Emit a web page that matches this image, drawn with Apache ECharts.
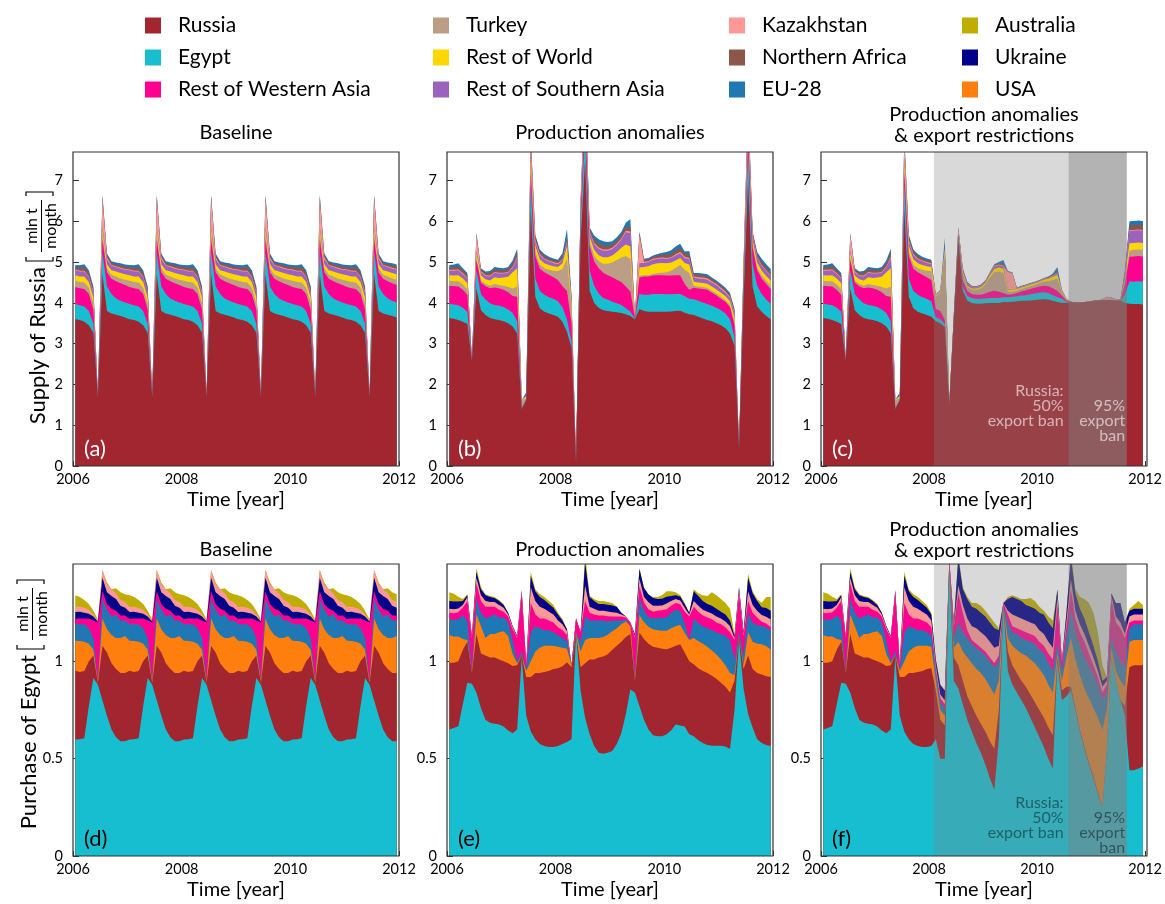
<!DOCTYPE html>
<html>
<head>
<meta charset="utf-8">
<script src="https://cdn.jsdelivr.net/npm/echarts@6/dist/echarts.min.js"></script>
<style>
  html, body { margin: 0; padding: 0; background: #fff; }
  #chart { width: 1165px; height: 904px; }
</style>
</head>
<body>
<div id="chart"></div>
<script>
// ---------------------------------------------------------------------------
// Monthly wheat flows, Jan 2006 .. Dec 2011 (one value per month, mln t/month)
// ---------------------------------------------------------------------------
const xTickYears = [2006, 2008, 2010, 2012];
const banSpans = [[2008.09, 2010.58], [2010.58, 2011.66]];   // Russian export bans
const banNotes = ['Russia:\n50%\nexport ban', '95%\nexport\nban'];

// ---- Supply of Russia: baseline (a)
const aRus = [3.60,3.58,3.54,3.45,3.27,1.70,4.70,3.80,3.74,3.71,3.68,3.64,
              3.60,3.58,3.54,3.45,3.27,1.70,4.70,3.80,3.74,3.71,3.68,3.64,
              3.60,3.58,3.54,3.45,3.27,1.70,4.70,3.80,3.74,3.71,3.68,3.64,
              3.60,3.58,3.54,3.45,3.27,1.70,4.70,3.80,3.74,3.71,3.68,3.64,
              3.60,3.58,3.54,3.45,3.27,1.70,4.70,3.80,3.74,3.71,3.68,3.64,
              3.60,3.58,3.54,3.45,3.27,1.70,4.70,3.80,3.74,3.71,3.68,3.64];
const aEgy = [0.37,0.36,0.37,0.35,0.22,0.01,0.55,0.60,0.48,0.40,0.37,0.37,
              0.37,0.36,0.37,0.35,0.22,0.01,0.55,0.60,0.48,0.40,0.37,0.37,
              0.37,0.36,0.37,0.35,0.22,0.01,0.55,0.60,0.48,0.40,0.37,0.37,
              0.37,0.36,0.37,0.35,0.22,0.01,0.55,0.60,0.48,0.40,0.37,0.37,
              0.37,0.36,0.37,0.35,0.22,0.01,0.55,0.60,0.48,0.40,0.37,0.37,
              0.37,0.36,0.37,0.35,0.22,0.01,0.55,0.60,0.48,0.40,0.37,0.37];
const aRwa = [0.42,0.42,0.43,0.42,0.35,0.01,0.30,0.35,0.37,0.42,0.43,0.43,
              0.42,0.42,0.43,0.42,0.35,0.01,0.30,0.35,0.37,0.42,0.43,0.43,
              0.42,0.42,0.43,0.42,0.35,0.01,0.30,0.35,0.37,0.42,0.43,0.43,
              0.42,0.42,0.43,0.42,0.35,0.01,0.30,0.35,0.37,0.42,0.43,0.43,
              0.42,0.42,0.43,0.42,0.35,0.01,0.30,0.35,0.37,0.42,0.43,0.43,
              0.42,0.42,0.43,0.42,0.35,0.01,0.30,0.35,0.37,0.42,0.43,0.43];
const aTur = [0.15,0.15,0.16,0.15,0.15,0.00,0.15,0.10,0.10,0.12,0.12,0.13,
              0.15,0.15,0.16,0.15,0.15,0.00,0.15,0.10,0.10,0.12,0.12,0.13,
              0.15,0.15,0.16,0.15,0.15,0.00,0.15,0.10,0.10,0.12,0.12,0.13,
              0.15,0.15,0.16,0.15,0.15,0.00,0.15,0.10,0.10,0.12,0.12,0.13,
              0.15,0.15,0.16,0.15,0.15,0.00,0.15,0.10,0.10,0.12,0.12,0.13,
              0.15,0.15,0.16,0.15,0.15,0.00,0.15,0.10,0.10,0.12,0.12,0.13];
const aRow = [0.14,0.14,0.15,0.14,0.14,0.00,0.12,0.10,0.11,0.12,0.13,0.13,
              0.14,0.14,0.15,0.14,0.14,0.00,0.12,0.10,0.11,0.12,0.13,0.13,
              0.14,0.14,0.15,0.14,0.14,0.00,0.12,0.10,0.11,0.12,0.13,0.13,
              0.14,0.14,0.15,0.14,0.14,0.00,0.12,0.10,0.11,0.12,0.13,0.13,
              0.14,0.14,0.15,0.14,0.14,0.00,0.12,0.10,0.11,0.12,0.13,0.13,
              0.14,0.14,0.15,0.14,0.14,0.00,0.12,0.10,0.11,0.12,0.13,0.13];
const aRsa = [0.12,0.12,0.12,0.12,0.12,0.00,0.05,0.12,0.11,0.11,0.11,0.11,
              0.12,0.12,0.12,0.12,0.12,0.00,0.05,0.12,0.11,0.11,0.11,0.11,
              0.12,0.12,0.12,0.12,0.12,0.00,0.05,0.12,0.11,0.11,0.11,0.11,
              0.12,0.12,0.12,0.12,0.12,0.00,0.05,0.12,0.11,0.11,0.11,0.11,
              0.12,0.12,0.12,0.12,0.12,0.00,0.05,0.12,0.11,0.11,0.11,0.11,
              0.12,0.12,0.12,0.12,0.12,0.00,0.05,0.12,0.11,0.11,0.11,0.11];
const aKaz = [0.02,0.02,0.02,0.02,0.02,0.00,0.70,0.05,0.02,0.02,0.02,0.02,
              0.02,0.02,0.02,0.02,0.02,0.00,0.70,0.05,0.02,0.02,0.02,0.02,
              0.02,0.02,0.02,0.02,0.02,0.00,0.70,0.05,0.02,0.02,0.02,0.02,
              0.02,0.02,0.02,0.02,0.02,0.00,0.70,0.05,0.02,0.02,0.02,0.02,
              0.02,0.02,0.02,0.02,0.02,0.00,0.70,0.05,0.02,0.02,0.02,0.02,
              0.02,0.02,0.02,0.02,0.02,0.00,0.70,0.05,0.02,0.02,0.02,0.02];
const aNaf = [0.06,0.07,0.09,0.09,0.08,0.00,0.04,0.05,0.05,0.05,0.06,0.06,
              0.06,0.07,0.09,0.09,0.08,0.00,0.04,0.05,0.05,0.05,0.06,0.06,
              0.06,0.07,0.09,0.09,0.08,0.00,0.04,0.05,0.05,0.05,0.06,0.06,
              0.06,0.07,0.09,0.09,0.08,0.00,0.04,0.05,0.05,0.05,0.06,0.06,
              0.06,0.07,0.09,0.09,0.08,0.00,0.04,0.05,0.05,0.05,0.06,0.06,
              0.06,0.07,0.09,0.09,0.08,0.00,0.04,0.05,0.05,0.05,0.06,0.06];
const aEu  = [0.05,0.06,0.07,0.06,0.05,0.00,0.04,0.04,0.04,0.04,0.05,0.05,
              0.05,0.06,0.07,0.06,0.05,0.00,0.04,0.04,0.04,0.04,0.05,0.05,
              0.05,0.06,0.07,0.06,0.05,0.00,0.04,0.04,0.04,0.04,0.05,0.05,
              0.05,0.06,0.07,0.06,0.05,0.00,0.04,0.04,0.04,0.04,0.05,0.05,
              0.05,0.06,0.07,0.06,0.05,0.00,0.04,0.04,0.04,0.04,0.05,0.05,
              0.05,0.06,0.07,0.06,0.05,0.00,0.04,0.04,0.04,0.04,0.05,0.05];

// ---- Supply of Russia: production anomalies (b)
const bRus = [3.63,3.61,3.58,3.54,3.48,2.58,4.35,3.82,3.70,3.63,3.60,3.58,
              3.55,3.50,3.42,3.25,1.40,1.62,6.30,4.15,3.87,3.78,3.74,3.70,
              3.66,3.54,3.29,2.90,0.08,5.50,7.50,4.30,4.00,3.88,3.82,3.80,
              3.78,3.77,3.75,3.72,3.68,3.60,3.85,3.80,3.78,3.78,3.78,3.78,
              3.78,3.79,3.80,3.81,3.76,3.72,3.70,3.66,3.62,3.58,3.55,3.50,
              3.45,3.38,3.25,2.95,0.43,4.10,7.00,4.40,3.92,3.78,3.68,3.60];
const bEgy = [0.35,0.35,0.36,0.34,0.30,0.01,0.45,0.40,0.38,0.36,0.35,0.35,
              0.35,0.34,0.33,0.30,0.01,0.02,0.60,0.45,0.42,0.42,0.40,0.40,
              0.38,0.35,0.30,0.15,0.01,0.45,0.70,0.50,0.42,0.35,0.30,0.28,
              0.25,0.22,0.20,0.15,0.10,0.02,0.37,0.40,0.42,0.44,0.44,0.44,
              0.43,0.42,0.42,0.41,0.40,0.38,0.39,0.39,0.39,0.39,0.38,0.38,
              0.37,0.36,0.35,0.20,0.01,0.30,0.70,0.55,0.50,0.44,0.40,0.37];
const bRwa = [0.44,0.45,0.46,0.44,0.42,0.01,0.25,0.28,0.33,0.37,0.43,0.43,
              0.42,0.42,0.42,0.60,0.01,0.00,0.30,0.55,0.55,0.55,0.55,0.53,
              0.52,0.52,0.70,0.45,0.01,0.25,0.50,0.58,0.60,0.62,0.62,0.60,
              0.60,0.58,0.56,0.53,0.50,0.02,0.40,0.45,0.45,0.45,0.46,0.46,
              0.46,0.46,0.46,0.46,0.30,0.22,0.28,0.30,0.33,0.35,0.32,0.30,
              0.28,0.28,0.30,0.30,0.01,0.20,0.40,0.40,0.38,0.38,0.38,0.37];
const bTur = [0.12,0.12,0.13,0.13,0.13,0.00,0.08,0.05,0.05,0.06,0.08,0.08,
              0.10,0.13,0.18,0.25,0.20,0.02,0.10,0.10,0.10,0.10,0.12,0.16,
              0.22,0.42,0.80,0.40,0.00,0.05,0.10,0.12,0.14,0.17,0.22,0.28,
              0.36,0.48,0.60,0.75,0.80,0.01,0.05,0.03,0.03,0.04,0.05,0.06,
              0.08,0.12,0.18,0.25,0.35,0.42,0.05,0.05,0.05,0.05,0.05,0.05,
              0.05,0.05,0.05,0.10,0.00,0.05,0.10,0.08,0.07,0.07,0.08,0.08];
const bRow = [0.14,0.14,0.15,0.15,0.15,0.00,0.10,0.12,0.12,0.13,0.17,0.17,
              0.20,0.25,0.40,0.45,0.00,0.05,0.20,0.15,0.13,0.12,0.12,0.11,
              0.10,0.14,0.30,0.10,0.00,0.08,0.20,0.12,0.14,0.15,0.16,0.16,
              0.17,0.20,0.24,0.28,0.30,0.00,0.20,0.20,0.22,0.24,0.24,0.24,
              0.22,0.20,0.18,0.17,0.17,0.20,0.10,0.10,0.10,0.10,0.10,0.10,
              0.10,0.09,0.09,0.10,0.00,0.10,0.20,0.12,0.12,0.12,0.12,0.12];
const bRsa = [0.11,0.12,0.12,0.11,0.11,0.00,0.05,0.08,0.08,0.10,0.11,0.11,
              0.10,0.10,0.12,0.25,0.00,0.00,0.10,0.10,0.10,0.10,0.09,0.08,
              0.07,0.08,0.10,0.05,0.00,0.05,0.10,0.10,0.14,0.16,0.16,0.16,
              0.16,0.17,0.20,0.30,0.33,0.00,0.10,0.10,0.10,0.11,0.11,0.11,
              0.11,0.11,0.12,0.12,0.12,0.13,0.10,0.10,0.10,0.10,0.10,0.10,
              0.09,0.09,0.08,0.08,0.00,0.05,0.10,0.10,0.12,0.12,0.12,0.12];
const bKaz = [0.02,0.02,0.02,0.02,0.02,0.00,0.40,0.03,0.02,0.02,0.02,0.02,
              0.02,0.02,0.02,0.03,0.00,0.00,0.40,0.04,0.03,0.02,0.02,0.02,
              0.02,0.02,0.02,0.01,0.00,0.08,0.30,0.03,0.03,0.03,0.03,0.03,
              0.03,0.03,0.03,0.04,0.04,0.00,0.70,0.03,0.02,0.02,0.02,0.02,
              0.02,0.02,0.03,0.03,0.03,0.03,0.03,0.03,0.03,0.03,0.03,0.03,
              0.03,0.03,0.03,0.03,0.00,0.15,0.40,0.03,0.02,0.02,0.02,0.02];
const bNaf = [0.07,0.07,0.08,0.07,0.07,0.00,0.02,0.04,0.05,0.06,0.07,0.07,
              0.06,0.07,0.08,0.12,0.00,0.00,0.05,0.07,0.06,0.06,0.05,0.05,
              0.05,0.07,0.10,0.05,0.00,0.02,0.05,0.05,0.09,0.10,0.10,0.09,
              0.08,0.08,0.08,0.10,0.12,0.00,0.05,0.04,0.05,0.05,0.06,0.07,
              0.08,0.09,0.10,0.10,0.08,0.10,0.05,0.06,0.06,0.06,0.05,0.05,
              0.05,0.05,0.05,0.05,0.00,0.03,0.05,0.04,0.07,0.07,0.07,0.07];
const bEu  = [0.05,0.06,0.07,0.05,0.05,0.00,0.01,0.03,0.04,0.05,0.05,0.05,
              0.05,0.05,0.07,0.08,0.00,0.10,0.05,0.06,0.05,0.05,0.04,0.04,
              0.04,0.08,0.20,0.09,0.00,0.02,0.05,0.05,0.09,0.10,0.10,0.09,
              0.08,0.08,0.08,0.10,0.18,0.00,0.03,0.03,0.03,0.03,0.04,0.05,
              0.07,0.08,0.09,0.10,0.05,0.07,0.03,0.04,0.04,0.04,0.04,0.04,
              0.04,0.04,0.04,0.04,0.00,0.02,0.05,0.03,0.05,0.08,0.08,0.08];

// ---- Supply of Russia: production anomalies & export restrictions (c)
const cRus = [3.63,3.61,3.58,3.54,3.48,2.58,4.35,3.82,3.70,3.63,3.60,3.58,
              3.55,3.50,3.42,3.25,1.40,1.62,6.30,4.15,3.87,3.78,3.74,3.70,
              3.66,3.55,3.50,3.40,1.50,3.60,5.55,4.30,4.05,4.00,3.98,3.98,
              3.99,4.00,4.00,4.00,4.02,4.02,4.03,4.04,4.05,4.05,4.06,4.07,
              4.08,4.09,4.08,4.05,4.02,4.00,4.00,4.02,4.01,4.01,4.02,4.03,
              4.05,4.06,4.07,4.07,4.07,4.06,4.06,4.00,3.98,3.97,3.97,3.96];
const cEgy = [0.35,0.35,0.36,0.34,0.30,0.01,0.45,0.40,0.38,0.36,0.35,0.35,
              0.35,0.34,0.33,0.30,0.01,0.02,0.60,0.45,0.42,0.42,0.40,0.40,
              0.38,0.10,0.10,0.08,0.00,0.02,0.10,0.10,0.12,0.12,0.12,0.12,
              0.12,0.12,0.12,0.12,0.12,0.12,0.12,0.12,0.13,0.14,0.15,0.16,
              0.17,0.17,0.16,0.14,0.12,0.10,0.03,0.01,0.00,0.00,0.00,0.00,
              0.00,0.00,0.00,0.00,0.00,0.00,0.00,0.20,0.55,0.55,0.56,0.56];
const cRwa = [0.44,0.45,0.46,0.44,0.42,0.01,0.25,0.28,0.33,0.37,0.43,0.43,
              0.42,0.42,0.42,0.60,0.01,0.00,0.30,0.55,0.55,0.55,0.55,0.53,
              0.52,0.20,0.20,0.10,0.00,0.02,0.06,0.15,0.12,0.10,0.10,0.10,
              0.12,0.15,0.18,0.15,0.10,0.06,0.06,0.08,0.10,0.12,0.13,0.14,
              0.15,0.16,0.17,0.17,0.15,0.08,0.03,0.00,0.00,0.00,0.00,0.00,
              0.00,0.00,0.00,0.00,0.00,0.00,0.00,0.25,0.60,0.62,0.62,0.62];
const cTur = [0.12,0.12,0.13,0.13,0.13,0.00,0.08,0.05,0.05,0.06,0.08,0.08,
              0.10,0.13,0.18,0.25,0.20,0.02,0.10,0.10,0.10,0.10,0.12,0.16,
              0.22,0.30,0.45,1.60,0.03,0.05,0.05,0.15,0.10,0.10,0.12,0.15,
              0.22,0.35,0.45,0.50,0.50,0.08,0.06,0.06,0.06,0.06,0.07,0.07,
              0.08,0.10,0.12,0.20,0.30,0.06,0.03,0.00,0.00,0.00,0.00,0.00,
              0.00,0.00,0.00,0.00,0.00,0.00,0.00,0.08,0.15,0.16,0.16,0.16];
const cRow = [0.14,0.14,0.15,0.15,0.15,0.00,0.10,0.12,0.12,0.13,0.17,0.17,
              0.20,0.25,0.40,0.45,0.00,0.05,0.20,0.15,0.13,0.12,0.12,0.11,
              0.10,0.03,0.03,0.12,0.01,0.01,0.02,0.05,0.03,0.03,0.03,0.04,
              0.04,0.06,0.08,0.10,0.10,0.05,0.05,0.04,0.04,0.04,0.04,0.04,
              0.04,0.05,0.06,0.08,0.10,0.04,0.01,0.00,0.00,0.00,0.00,0.00,
              0.00,0.00,0.00,0.00,0.00,0.00,0.00,0.08,0.18,0.17,0.17,0.17];
const cRsa = [0.11,0.12,0.12,0.11,0.11,0.00,0.05,0.08,0.08,0.10,0.11,0.11,
              0.10,0.10,0.12,0.25,0.00,0.00,0.10,0.10,0.10,0.10,0.09,0.08,
              0.07,0.01,0.01,0.02,0.00,0.00,0.02,0.03,0.04,0.04,0.03,0.03,
              0.03,0.04,0.06,0.05,0.05,0.01,0.01,0.01,0.01,0.01,0.01,0.01,
              0.01,0.01,0.01,0.02,0.03,0.01,0.00,0.00,0.00,0.00,0.00,0.00,
              0.00,0.00,0.00,0.00,0.00,0.00,0.00,0.10,0.30,0.30,0.30,0.30];
const cKaz = [0.02,0.02,0.02,0.02,0.02,0.00,0.40,0.03,0.02,0.02,0.02,0.02,
              0.02,0.02,0.02,0.03,0.00,0.00,0.40,0.04,0.03,0.02,0.02,0.02,
              0.02,0.01,0.01,0.02,0.00,0.00,0.03,0.02,0.01,0.01,0.01,0.01,
              0.01,0.01,0.02,0.02,0.02,0.42,0.40,0.01,0.01,0.01,0.01,0.01,
              0.01,0.01,0.01,0.01,0.01,0.01,0.00,0.00,0.00,0.00,0.00,0.00,
              0.00,0.00,0.02,0.08,0.06,0.03,0.02,0.01,0.02,0.02,0.02,0.02];
const cNaf = [0.07,0.07,0.08,0.07,0.07,0.00,0.02,0.04,0.05,0.06,0.07,0.07,
              0.06,0.07,0.08,0.12,0.00,0.00,0.05,0.07,0.06,0.06,0.05,0.05,
              0.05,0.00,0.00,0.01,0.00,0.00,0.01,0.02,0.02,0.01,0.01,0.01,
              0.01,0.01,0.02,0.03,0.04,0.01,0.01,0.01,0.01,0.01,0.01,0.01,
              0.01,0.01,0.02,0.02,0.02,0.01,0.00,0.00,0.00,0.00,0.00,0.00,
              0.00,0.00,0.00,0.00,0.00,0.00,0.00,0.05,0.12,0.12,0.12,0.12];
const cEu  = [0.05,0.06,0.07,0.05,0.05,0.00,0.01,0.03,0.04,0.05,0.05,0.05,
              0.05,0.05,0.07,0.08,0.00,0.10,0.05,0.06,0.05,0.05,0.04,0.04,
              0.04,0.01,0.02,0.25,0.00,0.00,0.01,0.03,0.02,0.01,0.01,0.01,
              0.01,0.01,0.02,0.03,0.10,0.01,0.01,0.01,0.01,0.01,0.01,0.01,
              0.01,0.01,0.02,0.03,0.13,0.01,0.00,0.00,0.00,0.00,0.00,0.00,
              0.00,0.00,0.00,0.00,0.00,0.00,0.00,0.03,0.10,0.10,0.10,0.10];

// ---- Purchase of Egypt: baseline (d)
const dEgy = [0.598,0.600,0.605,0.770,0.915,0.880,0.800,0.720,0.650,0.610,0.590,0.590,
              0.598,0.600,0.605,0.770,0.915,0.880,0.800,0.720,0.650,0.610,0.590,0.590,
              0.598,0.600,0.605,0.770,0.915,0.880,0.800,0.720,0.650,0.610,0.590,0.590,
              0.598,0.600,0.605,0.770,0.915,0.880,0.800,0.720,0.650,0.610,0.590,0.590,
              0.598,0.600,0.605,0.770,0.915,0.880,0.800,0.720,0.650,0.610,0.590,0.590,
              0.598,0.600,0.605,0.770,0.915,0.880,0.800,0.720,0.650,0.610,0.590,0.590];
const dRus = [0.353,0.345,0.345,0.230,0.115,0.010,0.280,0.325,0.340,0.350,0.350,0.350,
              0.353,0.345,0.345,0.230,0.115,0.010,0.280,0.325,0.340,0.350,0.350,0.350,
              0.353,0.345,0.345,0.230,0.115,0.010,0.280,0.325,0.340,0.350,0.350,0.350,
              0.353,0.345,0.345,0.230,0.115,0.010,0.280,0.325,0.340,0.350,0.350,0.350,
              0.353,0.345,0.345,0.230,0.115,0.010,0.280,0.325,0.340,0.350,0.350,0.350,
              0.353,0.345,0.345,0.230,0.115,0.010,0.280,0.325,0.340,0.350,0.350,0.350];
const dUsa = [0.155,0.160,0.150,0.090,0.030,0.005,0.140,0.120,0.145,0.160,0.180,0.190,
              0.155,0.160,0.150,0.090,0.030,0.005,0.140,0.120,0.145,0.160,0.180,0.190,
              0.155,0.160,0.150,0.090,0.030,0.005,0.140,0.120,0.145,0.160,0.180,0.190,
              0.155,0.160,0.150,0.090,0.030,0.005,0.140,0.120,0.145,0.160,0.180,0.190,
              0.155,0.160,0.150,0.090,0.030,0.005,0.140,0.120,0.145,0.160,0.180,0.190,
              0.155,0.160,0.150,0.090,0.030,0.005,0.140,0.120,0.145,0.160,0.180,0.190];
const dEu  = [0.086,0.085,0.090,0.080,0.060,0.005,0.100,0.100,0.095,0.120,0.090,0.080,
              0.086,0.085,0.090,0.080,0.060,0.005,0.100,0.100,0.095,0.120,0.090,0.080,
              0.086,0.085,0.090,0.080,0.060,0.005,0.100,0.100,0.095,0.120,0.090,0.080,
              0.086,0.085,0.090,0.080,0.060,0.005,0.100,0.100,0.095,0.120,0.090,0.080,
              0.086,0.085,0.090,0.080,0.060,0.005,0.100,0.100,0.095,0.120,0.090,0.080,
              0.086,0.085,0.090,0.080,0.060,0.005,0.100,0.100,0.095,0.120,0.090,0.080];
const dRwa = [0.026,0.030,0.030,0.050,0.090,0.300,0.040,0.030,0.040,0.020,0.025,0.025,
              0.026,0.030,0.030,0.050,0.090,0.300,0.040,0.030,0.040,0.020,0.025,0.025,
              0.026,0.030,0.030,0.050,0.090,0.300,0.040,0.030,0.040,0.020,0.025,0.025,
              0.026,0.030,0.030,0.050,0.090,0.300,0.040,0.030,0.040,0.020,0.025,0.025,
              0.026,0.030,0.030,0.050,0.090,0.300,0.040,0.030,0.040,0.020,0.025,0.025,
              0.026,0.030,0.030,0.050,0.090,0.300,0.040,0.030,0.040,0.020,0.025,0.025];
const dUkr = [0.035,0.035,0.030,0.025,0.020,0.005,0.070,0.060,0.065,0.060,0.050,0.040,
              0.035,0.035,0.030,0.025,0.020,0.005,0.070,0.060,0.065,0.060,0.050,0.040,
              0.035,0.035,0.030,0.025,0.020,0.005,0.070,0.060,0.065,0.060,0.050,0.040,
              0.035,0.035,0.030,0.025,0.020,0.005,0.070,0.060,0.065,0.060,0.050,0.040,
              0.035,0.035,0.030,0.025,0.020,0.005,0.070,0.060,0.065,0.060,0.050,0.040,
              0.035,0.035,0.030,0.025,0.020,0.005,0.070,0.060,0.065,0.060,0.050,0.040];
const dKaz = [0.026,0.026,0.025,0.020,0.010,0.005,0.040,0.040,0.035,0.030,0.030,0.030,
              0.026,0.026,0.025,0.020,0.010,0.005,0.040,0.040,0.035,0.030,0.030,0.030,
              0.026,0.026,0.025,0.020,0.010,0.005,0.040,0.040,0.035,0.030,0.030,0.030,
              0.026,0.026,0.025,0.020,0.010,0.005,0.040,0.040,0.035,0.030,0.030,0.030,
              0.026,0.026,0.025,0.020,0.010,0.005,0.040,0.040,0.035,0.030,0.030,0.030,
              0.026,0.026,0.025,0.020,0.010,0.005,0.040,0.040,0.035,0.030,0.030,0.030];
const dAus = [0.060,0.050,0.040,0.030,0.020,0.005,0.000,0.010,0.000,0.025,0.040,0.040,
              0.060,0.050,0.040,0.030,0.020,0.005,0.000,0.010,0.000,0.025,0.040,0.040,
              0.060,0.050,0.040,0.030,0.020,0.005,0.000,0.010,0.000,0.025,0.040,0.040,
              0.060,0.050,0.040,0.030,0.020,0.005,0.000,0.010,0.000,0.025,0.040,0.040,
              0.060,0.050,0.040,0.030,0.020,0.005,0.000,0.010,0.000,0.025,0.040,0.040,
              0.060,0.050,0.040,0.030,0.020,0.005,0.000,0.010,0.000,0.025,0.040,0.040];

// ---- Purchase of Egypt: production anomalies (e)
const eEgy = [0.650,0.657,0.666,0.780,0.890,0.885,0.840,0.760,0.700,0.685,0.680,0.675,
              0.665,0.645,0.630,0.650,1.020,0.720,0.640,0.600,0.575,0.565,0.560,0.560,
              0.565,0.575,0.585,0.600,1.150,0.850,0.710,0.625,0.565,0.530,0.525,0.530,
              0.540,0.575,0.630,0.730,0.855,0.840,0.770,0.700,0.650,0.620,0.615,0.615,
              0.625,0.645,0.675,0.670,0.665,0.625,0.615,0.595,0.580,0.570,0.566,0.566,
              0.566,0.563,0.550,0.750,1.110,0.860,0.730,0.660,0.600,0.580,0.570,0.565];
const eRus = [0.343,0.336,0.334,0.280,0.210,0.055,0.300,0.280,0.330,0.335,0.340,0.335,
              0.335,0.345,0.346,0.330,0.010,0.200,0.280,0.340,0.365,0.380,0.390,0.400,
              0.400,0.400,0.410,0.370,0.000,0.120,0.280,0.385,0.445,0.490,0.500,0.506,
              0.520,0.505,0.470,0.395,0.285,0.060,0.378,0.415,0.440,0.455,0.455,0.450,
              0.437,0.425,0.405,0.418,0.380,0.375,0.370,0.370,0.370,0.370,0.360,0.344,
              0.324,0.307,0.290,0.150,0.020,0.100,0.300,0.300,0.340,0.353,0.354,0.355];
const eUsa = [0.141,0.134,0.127,0.055,0.010,0.000,0.100,0.140,0.090,0.120,0.120,0.140,
              0.155,0.140,0.060,0.010,0.000,0.030,0.080,0.110,0.130,0.135,0.130,0.120,
              0.110,0.095,0.070,0.010,0.000,0.080,0.120,0.110,0.110,0.100,0.100,0.100,
              0.095,0.090,0.090,0.080,0.040,0.000,0.090,0.087,0.088,0.090,0.090,0.092,
              0.095,0.100,0.100,0.100,0.100,0.110,0.135,0.140,0.140,0.135,0.130,0.125,
              0.120,0.110,0.100,0.030,0.000,0.020,0.120,0.140,0.150,0.155,0.155,0.140];
const eEu  = [0.083,0.085,0.090,0.120,0.100,0.010,0.080,0.070,0.100,0.090,0.100,0.075,
              0.070,0.070,0.070,0.010,0.020,0.010,0.150,0.130,0.100,0.080,0.080,0.070,
              0.060,0.050,0.040,0.000,0.000,0.050,0.120,0.090,0.090,0.090,0.085,0.070,
              0.055,0.040,0.020,0.010,0.000,0.020,0.086,0.060,0.050,0.055,0.065,0.065,
              0.070,0.080,0.085,0.070,0.050,0.000,0.100,0.090,0.090,0.095,0.105,0.115,
              0.130,0.150,0.170,0.080,0.020,0.050,0.100,0.100,0.095,0.095,0.095,0.100];
const eRwa = [0.033,0.035,0.035,0.040,0.100,0.170,0.080,0.060,0.060,0.050,0.040,0.040,
              0.030,0.030,0.060,0.120,0.300,0.020,0.150,0.060,0.050,0.060,0.050,0.050,
              0.040,0.040,0.030,0.000,0.070,0.050,0.080,0.040,0.030,0.025,0.025,0.025,
              0.020,0.020,0.020,0.010,0.020,0.200,0.060,0.040,0.040,0.035,0.035,0.040,
              0.040,0.035,0.035,0.035,0.060,0.120,0.060,0.060,0.055,0.055,0.055,0.050,
              0.050,0.045,0.040,0.100,0.200,0.100,0.060,0.050,0.040,0.020,0.020,0.015];
const eKaz = [0.020,0.020,0.020,0.015,0.020,0.005,0.030,0.030,0.030,0.025,0.025,0.025,
              0.020,0.010,0.010,0.005,0.010,0.000,0.080,0.070,0.060,0.050,0.045,0.040,
              0.035,0.030,0.020,0.000,0.000,0.000,0.080,0.030,0.030,0.025,0.025,0.025,
              0.022,0.020,0.010,0.005,0.000,0.010,0.040,0.030,0.035,0.030,0.025,0.025,
              0.030,0.025,0.020,0.020,0.020,0.010,0.030,0.030,0.030,0.030,0.030,0.030,
              0.030,0.030,0.030,0.010,0.020,0.010,0.050,0.040,0.035,0.035,0.035,0.040];
const eUkr = [0.040,0.040,0.035,0.020,0.010,0.005,0.030,0.030,0.030,0.025,0.020,0.020,
              0.015,0.010,0.005,0.005,0.005,0.000,0.060,0.050,0.050,0.045,0.040,0.035,
              0.030,0.020,0.010,0.000,0.000,0.000,0.120,0.050,0.040,0.035,0.035,0.035,
              0.035,0.030,0.010,0.000,0.000,0.010,0.050,0.045,0.040,0.040,0.035,0.035,
              0.035,0.025,0.020,0.020,0.020,0.010,0.050,0.050,0.045,0.040,0.040,0.040,
              0.035,0.035,0.030,0.010,0.010,0.010,0.070,0.060,0.050,0.040,0.045,0.045];
const eAus = [0.045,0.040,0.025,0.010,0.005,0.000,0.020,0.010,0.005,0.005,0.005,0.005,
              0.005,0.000,0.000,0.000,0.000,0.000,0.020,0.010,0.015,0.015,0.015,0.015,
              0.010,0.007,0.000,0.000,0.000,0.000,0.040,0.007,0.010,0.015,0.015,0.014,
              0.013,0.000,0.000,0.000,0.000,0.000,0.006,0.003,0.002,0.005,0.010,0.018,
              0.028,0.025,0.015,0.007,0.005,0.000,0.010,0.015,0.030,0.040,0.069,0.070,
              0.065,0.060,0.060,0.010,0.000,0.000,0.020,0.010,0.010,0.022,0.056,0.070];

// ---- Purchase of Egypt: production anomalies & export restrictions (f)
const fEgy = [0.650,0.657,0.666,0.780,0.890,0.885,0.840,0.760,0.700,0.685,0.680,0.675,
              0.665,0.645,0.630,0.650,1.020,0.720,0.640,0.600,0.575,0.565,0.560,0.560,
              0.565,0.600,0.500,0.500,1.480,0.900,0.860,0.780,0.700,0.640,0.580,0.530,
              0.470,0.400,0.340,0.600,1.280,0.950,0.880,0.840,0.800,0.760,0.710,0.660,
              0.610,0.560,0.500,0.450,1.000,0.800,0.820,0.850,0.750,0.640,0.550,0.470,
              0.400,0.320,0.250,0.550,1.020,0.900,0.800,0.720,0.440,0.440,0.450,0.460];
const fRus = [0.343,0.336,0.334,0.280,0.210,0.055,0.300,0.280,0.330,0.335,0.340,0.335,
              0.335,0.345,0.346,0.330,0.010,0.200,0.280,0.340,0.365,0.380,0.390,0.400,
              0.400,0.250,0.200,0.170,0.000,0.120,0.120,0.120,0.120,0.130,0.140,0.150,
              0.170,0.190,0.210,0.150,0.000,0.100,0.100,0.100,0.100,0.110,0.120,0.130,
              0.140,0.150,0.160,0.170,0.020,0.050,0.050,0.020,0.010,0.010,0.010,0.010,
              0.010,0.010,0.000,0.000,0.000,0.000,0.000,0.050,0.530,0.540,0.530,0.520];
const fUsa = [0.141,0.134,0.127,0.055,0.010,0.000,0.100,0.140,0.090,0.120,0.120,0.140,
              0.155,0.140,0.060,0.010,0.000,0.030,0.080,0.110,0.130,0.135,0.130,0.120,
              0.110,0.050,0.050,0.050,0.000,0.050,0.120,0.150,0.200,0.220,0.240,0.260,
              0.270,0.280,0.280,0.150,0.000,0.070,0.100,0.120,0.140,0.160,0.180,0.200,
              0.210,0.220,0.220,0.220,0.020,0.050,0.150,0.250,0.250,0.280,0.300,0.330,
              0.350,0.380,0.400,0.200,0.050,0.050,0.100,0.100,0.130,0.130,0.130,0.130];
const fEu  = [0.083,0.085,0.090,0.120,0.100,0.010,0.080,0.070,0.100,0.090,0.100,0.075,
              0.070,0.070,0.070,0.010,0.020,0.010,0.150,0.130,0.100,0.080,0.080,0.070,
              0.060,0.040,0.040,0.040,0.000,0.050,0.100,0.100,0.100,0.100,0.110,0.110,
              0.120,0.130,0.140,0.100,0.000,0.080,0.070,0.080,0.080,0.080,0.090,0.100,
              0.100,0.110,0.110,0.110,0.050,0.050,0.100,0.150,0.140,0.150,0.160,0.170,
              0.170,0.170,0.160,0.080,0.050,0.100,0.100,0.100,0.070,0.080,0.080,0.080];
const fRwa = [0.033,0.035,0.035,0.040,0.100,0.170,0.080,0.060,0.060,0.050,0.040,0.040,
              0.030,0.030,0.060,0.120,0.300,0.020,0.150,0.060,0.050,0.060,0.050,0.050,
              0.040,0.020,0.020,0.020,0.040,0.060,0.150,0.100,0.040,0.020,0.020,0.020,
              0.020,0.020,0.020,0.030,0.020,0.040,0.030,0.030,0.040,0.040,0.040,0.040,
              0.040,0.040,0.050,0.060,0.200,0.050,0.050,0.100,0.070,0.070,0.080,0.060,
              0.050,0.040,0.030,0.050,0.200,0.150,0.170,0.150,0.030,0.020,0.020,0.020];
const fKaz = [0.020,0.020,0.020,0.015,0.020,0.005,0.030,0.030,0.030,0.025,0.025,0.025,
              0.020,0.010,0.010,0.005,0.010,0.000,0.080,0.070,0.060,0.050,0.045,0.040,
              0.035,0.020,0.020,0.020,0.000,0.010,0.040,0.040,0.060,0.070,0.080,0.080,
              0.080,0.080,0.080,0.050,0.000,0.020,0.060,0.060,0.060,0.060,0.060,0.060,
              0.060,0.060,0.060,0.060,0.040,0.000,0.030,0.050,0.040,0.040,0.040,0.040,
              0.040,0.030,0.030,0.020,0.020,0.030,0.030,0.020,0.030,0.030,0.030,0.030];
const fUkr = [0.040,0.040,0.035,0.020,0.010,0.005,0.030,0.030,0.030,0.025,0.020,0.020,
              0.015,0.010,0.005,0.005,0.005,0.000,0.060,0.050,0.050,0.045,0.040,0.035,
              0.030,0.030,0.050,0.050,0.000,0.010,0.140,0.080,0.100,0.100,0.100,0.100,
              0.100,0.100,0.100,0.080,0.000,0.060,0.090,0.090,0.090,0.080,0.080,0.080,
              0.090,0.100,0.100,0.100,0.040,0.000,0.050,0.120,0.090,0.080,0.080,0.070,
              0.060,0.050,0.030,0.020,0.010,0.070,0.100,0.060,0.030,0.030,0.030,0.030];
const fAus = [0.045,0.040,0.025,0.010,0.005,0.000,0.020,0.010,0.005,0.005,0.005,0.005,
              0.005,0.000,0.000,0.000,0.000,0.000,0.020,0.010,0.015,0.015,0.015,0.015,
              0.010,0.000,0.000,0.000,0.000,0.000,0.020,0.010,0.010,0.020,0.030,0.035,
              0.030,0.030,0.030,0.010,0.000,0.010,0.010,0.010,0.010,0.030,0.045,0.040,
              0.030,0.020,0.030,0.040,0.000,0.000,0.000,0.010,0.020,0.060,0.100,0.150,
              0.170,0.150,0.080,0.000,0.000,0.000,0.000,0.000,0.010,0.020,0.040,0.020];

// ---------------------------------------------------------------------------
const FONT = 'Lato, "Open Sans", "DejaVu Sans", sans-serif';
const COLORS = {
  'Russia': '#a2262f', 'Egypt': '#17becf', 'Rest of Western Asia': '#ff0090',
  'Turkey': '#bc9e86', 'Rest of World': '#ffd700', 'Rest of Southern Asia': '#9b62c0',
  'Kazakhstan': '#ff9896', 'Northern Africa': '#8c564b', 'EU-28': '#1f77b4',
  'Australia': '#bfae00', 'Ukraine': '#00008b', 'USA': '#ff7f0e'
};

// mid-month sample times
const months = aRus.map((_, i) => 2006 + (i + 0.5) / 12);

// panel boxes (pixels)
const boxes = [
  { left: 73,  top: 152, width: 326, height: 314 },
  { left: 447, top: 152, width: 326, height: 314 },
  { left: 821, top: 152, width: 326, height: 314 },
  { left: 73,  top: 564, width: 326, height: 292 },
  { left: 447, top: 564, width: 326, height: 292 },
  { left: 821, top: 564, width: 326, height: 292 }
];

// stacking order, bottom to top
const panels = [
  [['Russia', aRus], ['Egypt', aEgy], ['Rest of Western Asia', aRwa], ['Turkey', aTur], ['Rest of World', aRow],
   ['Rest of Southern Asia', aRsa], ['Kazakhstan', aKaz], ['Northern Africa', aNaf], ['EU-28', aEu]],
  [['Russia', bRus], ['Egypt', bEgy], ['Rest of Western Asia', bRwa], ['Turkey', bTur], ['Rest of World', bRow],
   ['Rest of Southern Asia', bRsa], ['Kazakhstan', bKaz], ['Northern Africa', bNaf], ['EU-28', bEu]],
  [['Russia', cRus], ['Egypt', cEgy], ['Rest of Western Asia', cRwa], ['Turkey', cTur], ['Rest of World', cRow],
   ['Rest of Southern Asia', cRsa], ['Kazakhstan', cKaz], ['Northern Africa', cNaf], ['EU-28', cEu]],
  [['Egypt', dEgy], ['Russia', dRus], ['USA', dUsa], ['EU-28', dEu], ['Rest of Western Asia', dRwa],
   ['Ukraine', dUkr], ['Kazakhstan', dKaz], ['Australia', dAus]],
  [['Egypt', eEgy], ['Russia', eRus], ['USA', eUsa], ['EU-28', eEu], ['Rest of Western Asia', eRwa],
   ['Kazakhstan', eKaz], ['Ukraine', eUkr], ['Australia', eAus]],
  [['Egypt', fEgy], ['Russia', fRus], ['USA', fUsa], ['EU-28', fEu], ['Rest of Western Asia', fRwa],
   ['Kazakhstan', fKaz], ['Ukraine', fUkr], ['Australia', fAus]]
];

// Stacked areas: each layer is filled from its cumulative top down to zero;
// upper layers are drawn first so lower layers sit on top of them.
function stackedSeries(g, layers) {
  let run = months.map(() => 0);
  const tops = layers.map(([name, vals]) => {
    run = run.map((s, i) => s + vals[i]);
    return [name, run];
  });
  return tops.reverse().map(([name, top]) => ({
    type: 'line', name, xAxisIndex: g, yAxisIndex: g,
    data: top.map((v, i) => [months[i], v]),
    symbol: 'none', showSymbol: false, silent: true, clip: true, z: 2,
    lineStyle: { width: 0, opacity: 0 },
    itemStyle: { color: COLORS[name] },
    areaStyle: { color: COLORS[name], opacity: 1 }
  }));
}

const banFill = ['rgba(128,128,128,0.3)', 'rgba(128,128,128,0.6)'];
function banShadeSeries(g) {
  return {
    type: 'custom', xAxisIndex: g, yAxisIndex: g, z: 5, silent: true,
    data: banSpans.map((s, k) => [s[0], s[1], k]),
    encode: { x: [0, 1], y: 2 },
    renderItem: (params, api) => {
      const cs = params.coordSys;
      const x0 = api.coord([api.value(0), 0])[0];
      const x1 = api.coord([api.value(1), 0])[0];
      return { type: 'rect', shape: { x: x0, y: cs.y, width: x1 - x0, height: cs.height },
               style: { fill: banFill[api.value(2)] } };
    }
  };
}
function banNoteSeries(g, pts, color) {
  return {
    type: 'custom', xAxisIndex: g, yAxisIndex: g, z: 6, silent: true,
    data: pts.map((p, k) => [p[0], p[1], k]),
    encode: { x: 0, y: 1 },
    renderItem: (params, api) => {
      const p = api.coord([api.value(0), api.value(1)]);
      return { type: 'text', x: p[0], y: p[1],
               style: { text: banNotes[api.value(2)], align: 'right', verticalAlign: 'top',
                        font: '16px ' + FONT, lineHeight: 15, fill: color } };
    }
  };
}

const series = [];
panels.forEach((layers, g) => series.push(...stackedSeries(g, layers)));
series.push(banShadeSeries(2), banShadeSeries(5));
series.push(banNoteSeries(2, [[2010.49, 2.03], [2011.63, 1.66]], 'rgba(255,255,255,0.6)'));
series.push(banNoteSeries(5, [[2010.49, 0.31], [2011.63, 0.232]], 'rgba(0,0,0,0.45)'));

const tickLabel = { fontFamily: FONT, fontSize: 14.5, color: '#000' };
const xAxes = boxes.map((b, g) => ({
  type: 'value', gridIndex: g, min: xTickYears[0], max: xTickYears[xTickYears.length - 1], interval: 2,
  axisLine: { show: false }, splitLine: { show: false },
  axisTick: { show: true, inside: true, length: 5, lineStyle: { color: '#333', width: 1 } },
  axisLabel: Object.assign({ margin: 6, formatter: v => String(v) }, tickLabel)
}));
const yAxes = boxes.map((b, g) => ({
  type: 'value', gridIndex: g, min: 0, max: g < 3 ? 7.7 : 1.5, interval: g < 3 ? 1 : 0.5,
  axisLine: { show: false }, splitLine: { show: false },
  axisTick: { show: true, inside: true, length: 6, lineStyle: { color: '#333', width: 1 } },
  axisLabel: Object.assign({ margin: 10, showMaxLabel: false, formatter: v => String(v) }, tickLabel)
}));

// legend, four columns of three
const legendCols = [
  ['Russia', 'Egypt', 'Rest of Western Asia'],
  ['Turkey', 'Rest of World', 'Rest of Southern Asia'],
  ['Kazakhstan', 'Northern Africa', 'EU-28'],
  ['Australia', 'Ukraine', 'USA']
];
const legendLeft = [140, 428, 724, 957];
const legends = legendCols.map((names, c) => ({
  orient: 'vertical', left: legendLeft[c], top: 10, itemWidth: 16, itemHeight: 16, itemGap: 11,
  icon: 'rect', selectedMode: false, data: names,
  textStyle: { fontFamily: FONT, fontSize: 21, color: '#000', padding: [0, 0, 0, 12] }
}));

// texts, frames and axis names
const graphics = [];
const titles = [
  ['Baseline'], ['Production anomalies'], ['Production anomalies', '& export restrictions'],
  ['Baseline'], ['Production anomalies'], ['Production anomalies', '& export restrictions']
];
const titleY = [[133], [133], [115, 136], [550], [550], [530, 551]];
const panelTags = ['(a)', '(b)', '(c)', '(d)', '(e)', '(f)'];
boxes.forEach((b, g) => {
  const cx = b.left + b.width / 2;
  titles[g].forEach((line, k) => graphics.push({
    type: 'text', x: cx, y: titleY[g][k], z: 50,
    style: { text: line, font: '20px ' + FONT, fill: '#000', align: 'center', verticalAlign: 'middle' }
  }));
  graphics.push({
    type: 'text', x: cx, y: b.top + b.height + 34, z: 50,
    style: { text: 'Time [year]', font: '20px ' + FONT, fill: '#000', align: 'center', verticalAlign: 'middle' }
  });
  graphics.push({
    type: 'text', x: b.left + 11, y: b.top + b.height - 17, z: 50,
    style: { text: panelTags[g], font: '22px ' + FONT, fill: g < 3 ? '#fff' : '#000', align: 'left', verticalAlign: 'middle' }
  });
  graphics.push({
    type: 'rect', z: 60, shape: { x: b.left, y: b.top, width: b.width, height: b.height },
    style: { fill: null, stroke: '#333', lineWidth: 1.2 }
  });
});

// rotated axis title with a bracketed fraction unit
function yTitle(gx, gy, text) {
  const ink = { stroke: '#000', lineWidth: 1.2, fill: null };
  return {
    type: 'group', x: gx, y: gy, rotation: Math.PI / 2, z: 50,
    children: [
      { type: 'text', x: 0, y: 0, style: { text, font: '22px ' + FONT, fill: '#000', align: 'right', verticalAlign: 'middle' } },
      { type: 'polyline', shape: { points: [[10, -12], [6, -12], [6, 15], [10, 15]] }, style: ink },
      { type: 'text', x: 41, y: 2, style: { text: 'mln t', font: '16px ' + FONT, fill: '#000', align: 'center', verticalAlign: 'bottom' } },
      { type: 'line', shape: { x1: 15, y1: 3.5, x2: 67, y2: 3.5 }, style: { stroke: '#000', lineWidth: 1 } },
      { type: 'text', x: 41, y: 4.5, style: { text: 'month', font: '16px ' + FONT, fill: '#000', align: 'center', verticalAlign: 'top' } },
      { type: 'polyline', shape: { points: [[71, -12], [75, -12], [75, 15], [71, 15]] }, style: ink }
    ]
  };
}
graphics.push(yTitle(38, 267, 'Supply of Russia'));
graphics.push(yTitle(29, 655, 'Purchase of Egypt'));

const chart = echarts.init(document.getElementById('chart'), null, { renderer: 'canvas' });
chart.setOption({
  animation: false,
  backgroundColor: '#fff',
  legend: legends,
  grid: boxes.map(b => Object.assign({ containLabel: false }, b)),
  xAxis: xAxes,
  yAxis: yAxes,
  series,
  graphic: graphics
});
</script>
</body>
</html>
